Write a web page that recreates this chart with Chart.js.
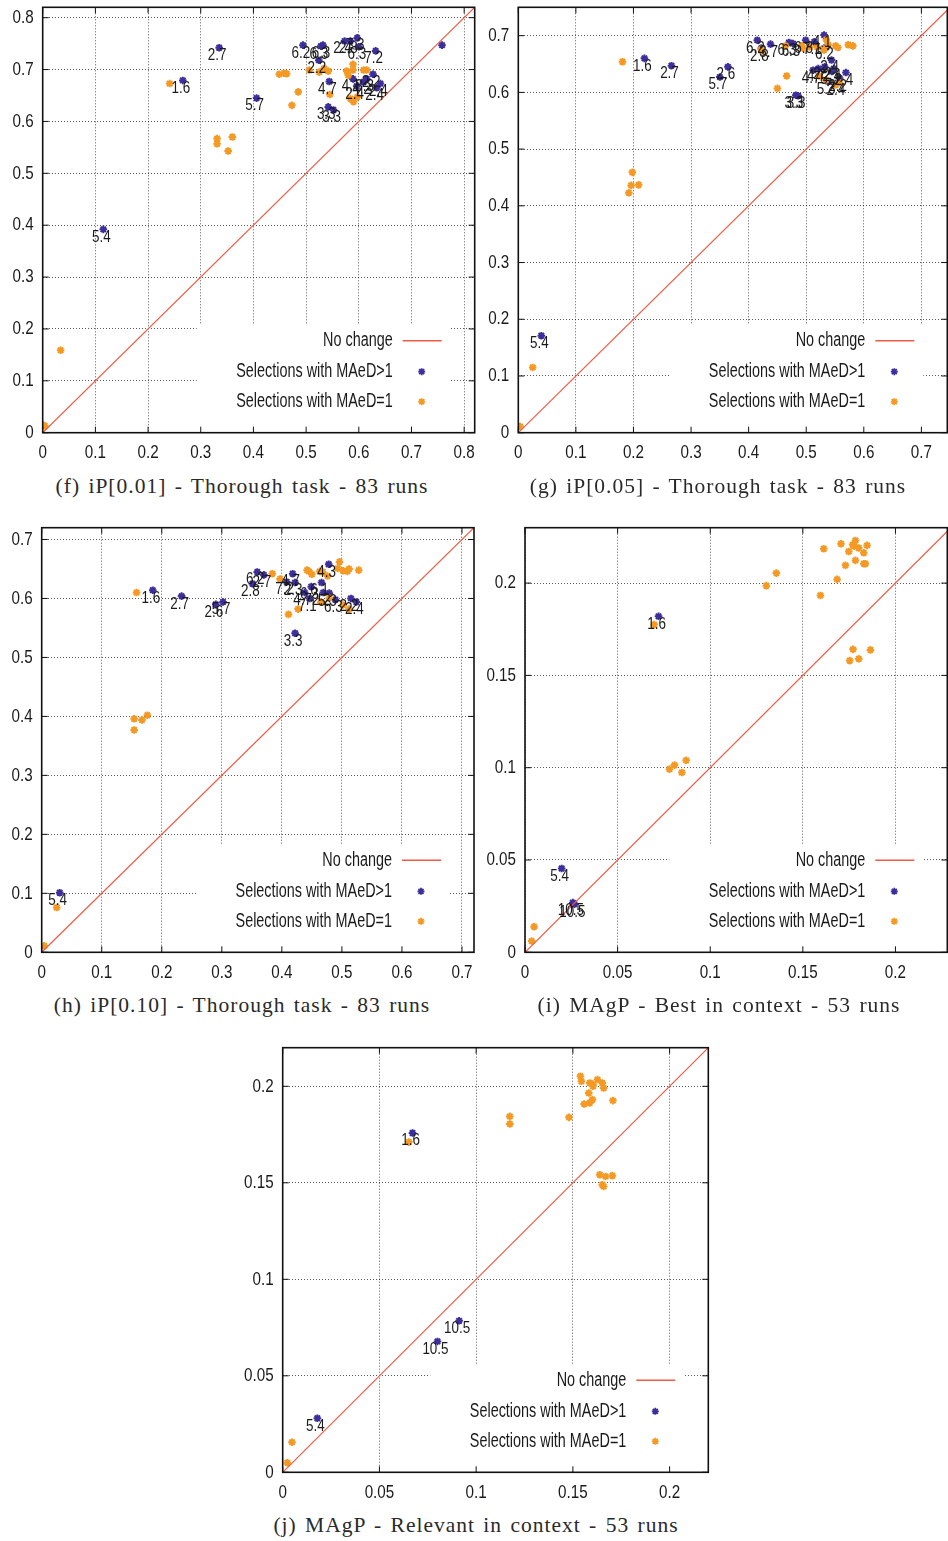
<!DOCTYPE html>
<html>
<head>
<meta charset="utf-8">
<script src="https://cdn.jsdelivr.net/npm/chart.js@4.4.1/dist/chart.umd.min.js"></script>
<style>
html, body { margin: 0; padding: 0; background: #fff; overflow: hidden; width: 948px; height: 1541px; position: relative; }
canvas { position: absolute; }
.cap { position: absolute; width: 480px; text-align: center; white-space: nowrap;
       font-family: "Liberation Serif", "DejaVu Serif", serif; font-size: 21.5px; line-height: 24px;
       letter-spacing: 1px; word-spacing: 2px; color: #2a2a2a; }
</style>
</head>
<body>
<canvas id="pf"></canvas>
<canvas id="pg"></canvas>
<canvas id="ph"></canvas>
<canvas id="pi"></canvas>
<canvas id="pj"></canvas>
<div class="cap" style="left:2px;top:474px">(f) iP[0.01] - Thorough task - 83 runs</div>
<div class="cap" style="left:478px;top:474px">(g) iP[0.05] - Thorough task - 83 runs</div>
<div class="cap" style="left:2px;top:993px">(h) iP[0.10] - Thorough task - 83 runs</div>
<div class="cap" style="left:479px;top:993px">(i) MAgP - Best in context - 53 runs</div>
<div class="cap" style="left:236px;top:1513px">(j) MAgP - Relevant in context - 53 runs</div>
<script>
// tick labels
var ticks08 = [0, 0.1, 0.2, 0.3, 0.4, 0.5, 0.6, 0.7, 0.8];
var ticks07 = [0, 0.1, 0.2, 0.3, 0.4, 0.5, 0.6, 0.7];
var ticks02 = [0, 0.05, 0.1, 0.15, 0.2];
var noChange = [0, 1];

// (f) iP[0.01]
var fBlue = [[0.115,0.392],[0.266,0.679],[0.335,0.742],[0.406,0.645],[0.494,0.747],[0.528,0.745],
  [0.532,0.747],[0.524,0.718],[0.573,0.755],[0.584,0.755],[0.597,0.761],[0.600,0.744],[0.632,0.736],
  [0.544,0.677],[0.542,0.628],[0.552,0.622],[0.589,0.682],[0.596,0.668],[0.609,0.676],[0.627,0.691],
  [0.634,0.665],[0.641,0.673],[0.615,0.682],[0.758,0.747]];
var fBlueLabels = ['5.4','1.6','2.7','5.7','6.2','6.3','6.3','2.2','2.4','2.8','7.3','6.3','7.2',
  '4.7','3.3','3.3','4.1','2.4','4.2','2.2','2.4','2.4','3.3',''];
var fOrange = [[0.000,0.015],[0.004,0.013],[0.034,0.159],[0.241,0.673],[0.331,0.567],[0.331,0.557],
  [0.360,0.570],[0.352,0.543],[0.449,0.691],[0.458,0.693],[0.463,0.692],[0.485,0.657],[0.473,0.631],
  [0.506,0.699],[0.525,0.695],[0.534,0.702],[0.542,0.697],[0.545,0.652],[0.577,0.697],[0.580,0.689],
  [0.589,0.710],[0.589,0.699],[0.609,0.699],[0.615,0.699],[0.584,0.644],[0.590,0.638],[0.597,0.647]];

// (g) iP[0.05]
var gBlue = [[0.040,0.171],[0.219,0.660],[0.266,0.647],[0.364,0.645],[0.350,0.627],[0.415,0.692],
  [0.422,0.678],[0.438,0.685],[0.470,0.688],[0.477,0.686],[0.499,0.692],[0.514,0.689],[0.531,0.701],
  [0.535,0.680],[0.544,0.657],[0.482,0.595],[0.486,0.594],[0.512,0.639],[0.521,0.642],[0.532,0.645],
  [0.544,0.637],[0.548,0.642],[0.558,0.625],[0.569,0.635],[0.555,0.617],[0.538,0.619]];
var gBlueLabels = ['5.4','1.6','2.7','2.6','5.7','6.2','2.8','3.7','6.3','6.3','6.8','7.1','4.1',
  '6.2','2.4','3.3','3.3','4.7','4.7','2.2','5.3','2.4','2.2','2.4','2.4','5.3'];
var gOrange = [[0.003,0.011],[0.025,0.115],[0.181,0.654],[0.198,0.459],[0.196,0.436],[0.192,0.423],
  [0.209,0.437],[0.422,0.676],[0.423,0.673],[0.464,0.682],[0.466,0.629],[0.450,0.607],[0.492,0.682],
  [0.494,0.678],[0.506,0.680],[0.519,0.680],[0.531,0.675],[0.535,0.693],[0.538,0.684],[0.551,0.682],
  [0.555,0.679],[0.573,0.684],[0.581,0.682],[0.522,0.629],[0.534,0.622],[0.551,0.613],[0.558,0.617]];

// (h) iP[0.10]
var hBlue = [[0.030,0.101],[0.185,0.614],[0.233,0.604],[0.290,0.590],[0.302,0.594],[0.359,0.645],
  [0.351,0.625],[0.370,0.640],[0.418,0.642],[0.408,0.628],[0.422,0.627],[0.422,0.541],[0.478,0.658],
  [0.449,0.620],[0.466,0.627],[0.438,0.610],[0.446,0.600],[0.469,0.610],[0.479,0.609],[0.489,0.598],
  [0.515,0.600],[0.524,0.594]];
var hBlueLabels = ['5.4','1.6','2.7','2.6','5.7','6.2','2.8','2.7','4.7','7.2','2.3','3.3','4.3',
  '6.3','6.1','4.7','7.1','2.2','5.3','6.3','2.2','2.4'];
var hOrange = [[0.004,0.011],[0.025,0.076],[0.158,0.610],[0.154,0.396],[0.154,0.377],[0.167,0.394],
  [0.176,0.402],[0.384,0.642],[0.397,0.633],[0.411,0.573],[0.427,0.582],[0.442,0.648],[0.445,0.646],
  [0.450,0.641],[0.463,0.646],[0.468,0.645],[0.476,0.638],[0.496,0.662],[0.493,0.651],[0.502,0.647],
  [0.509,0.646],[0.512,0.650],[0.528,0.648],[0.465,0.594],[0.479,0.601],[0.502,0.589],[0.512,0.582]];

// (i) MAgP - Best in context
var iBlue = [[0.0721,0.182],[0.0198,0.0454],[0.0258,0.0269],[0.0267,0.0261]];
var iBlueLabels = ['1.6','5.4','10.5','10.5'];
var iOrange = [[0.0036,0.0061],[0.0049,0.0139],[0.0697,0.1775],[0.0780,0.0992],[0.0807,0.1014],
  [0.0847,0.0974],[0.0870,0.1040],[0.1303,0.1986],[0.1357,0.2054],[0.1595,0.1933],[0.1613,0.2186],
  [0.1685,0.2020],[0.1706,0.2213],[0.1730,0.2096],[0.1748,0.2171],[0.1769,0.2207],[0.1784,0.2231],
  [0.1778,0.2200],[0.1802,0.2190],[0.1784,0.2123],[0.1829,0.2164],[0.1829,0.2105],[0.1838,0.2105],
  [0.1847,0.2204],[0.1771,0.1641],[0.1753,0.1580],[0.1802,0.1590],[0.1865,0.1638]];

// (j) MAgP - Relevant in context
var jBlue = [[0.0671,0.1758],[0.0179,0.0280],[0.0800,0.0678],[0.0912,0.0785]];
var jBlueLabels = ['1.6','5.4','10.5','10.5'];
var jOrange = [[0.0024,0.0050],[0.0048,0.0156],[0.0652,0.1711],[0.1174,0.1844],[0.1174,0.1805],
  [0.1480,0.1839],[0.1539,0.2052],[0.1544,0.2026],[0.1558,0.1908],[0.1582,0.1965],[0.1587,0.2017],
  [0.1604,0.2010],[0.1604,0.2000],[0.1587,0.1914],[0.1601,0.1931],[0.1627,0.2035],[0.1652,0.2017],
  [0.1659,0.1991],[0.1707,0.1926],[0.1639,0.1542],[0.1652,0.1490],[0.1659,0.1481],[0.1669,0.1533],
  [0.1704,0.1537]];

var BLUE = '#3d2f9b';
var ORANGE = '#f49a24';
var RED = '#ef5b44';
var SANS = '"Liberation Sans", Arial, sans-serif';

function toPts(arr) {
    return arr.map(function (p) { return {x: p[0], y: p[1]}; });
}

// narrow-looking text: regular sans squeezed sideways
function narrowText(ctx, text, x, y, align, size, sx) {
    ctx.save();
    ctx.translate(x, y);
    ctx.scale(sx, 1);
    ctx.font = size + 'px ' + SANS;
    ctx.fillStyle = '#1a1a1a';
    ctx.textAlign = align;
    ctx.textBaseline = 'middle';
    ctx.fillText(text, 0, 0);
    ctx.restore();
}

function star(ctx, x, y, r, color) {
    var d = r * 0.72;
    ctx.save();
    ctx.strokeStyle = color;
    ctx.lineWidth = 1.8;
    ctx.beginPath();
    ctx.moveTo(x - r, y); ctx.lineTo(x + r, y);
    ctx.moveTo(x, y - r); ctx.lineTo(x, y + r);
    ctx.moveTo(x - d, y - d); ctx.lineTo(x + d, y + d);
    ctx.moveTo(x - d, y + d); ctx.lineTo(x + d, y - d);
    ctx.stroke();
    ctx.restore();
}

var overlay = {
    id: 'overlay',
    beforeDatasetsDraw: function (chart) {
        // white key box hides the grid behind it
        var a = chart.chartArea, ctx = chart.ctx;
        ctx.save();
        ctx.fillStyle = '#fff';
        ctx.fillRect(a.right - 278, a.bottom - 108, 254, 107);
        ctx.restore();
    },
    afterDatasetsDraw: function (chart, args, opts) {
        var ctx = chart.ctx, xs = chart.scales.x, ys = chart.scales.y;
        opts.pts.forEach(function (p, i) {
            var t = opts.labels[i];
            if (!t) return;
            narrowText(ctx, t, xs.getPixelForValue(p[0]) - 2, ys.getPixelForValue(p[1]) + 8, 'center', 16, 0.84);
        });
    },
    afterDraw: function (chart, args, opts) {
        var a = chart.chartArea, ctx = chart.ctx, xs = chart.scales.x, ys = chart.scales.y;
        ctx.save();
        ctx.setLineDash([]);
        ctx.strokeStyle = '#111';
        ctx.lineWidth = 1.6;
        ctx.strokeRect(a.left, a.top, a.right - a.left, a.bottom - a.top);
        ctx.lineWidth = 1;
        ctx.beginPath();
        opts.xt.forEach(function (v) {
            var px = xs.getPixelForValue(v);
            ctx.moveTo(px, a.bottom); ctx.lineTo(px, a.bottom - 6);
            ctx.moveTo(px, a.top); ctx.lineTo(px, a.top + 6);
        });
        opts.yt.forEach(function (v) {
            var py = ys.getPixelForValue(v);
            ctx.moveTo(a.left, py); ctx.lineTo(a.left + 6, py);
            ctx.moveTo(a.right, py); ctx.lineTo(a.right - 6, py);
        });
        ctx.stroke();
        ctx.restore();

        opts.xt.forEach(function (v) {
            narrowText(ctx, String(v), xs.getPixelForValue(v), a.bottom + 20, 'center', 19, 0.8);
        });
        opts.yt.forEach(function (v) {
            narrowText(ctx, String(v), a.left - 9, ys.getPixelForValue(v), 'right', 19, 0.8);
        });

        // key
        var tx = a.right - 82, mx = a.right - 53;
        var r1 = a.bottom - 92, r2 = a.bottom - 61, r3 = a.bottom - 31;
        narrowText(ctx, 'No change', tx, r1, 'right', 20, 0.72);
        narrowText(ctx, 'Selections with MAeD>1', tx, r2, 'right', 20, 0.72);
        narrowText(ctx, 'Selections with MAeD=1', tx, r3, 'right', 20, 0.72);
        ctx.save();
        ctx.strokeStyle = RED;
        ctx.lineWidth = 1.5;
        ctx.beginPath();
        ctx.moveTo(a.right - 72, r1); ctx.lineTo(a.right - 33, r1);
        ctx.stroke();
        ctx.restore();
        star(ctx, mx, r2, 3.5, BLUE);
        star(ctx, mx, r3, 3.5, ORANGE);
    }
};

function axis(ticks, max, fitFn) {
    return {
        type: 'linear', min: 0, max: max,
        afterBuildTicks: function (s) { s.ticks = ticks.map(function (v) { return {value: v}; }); },
        afterFit: fitFn,
        ticks: {display: false},
        grid: {color: 'rgba(0,0,0,0.65)', lineWidth: 1, drawTicks: false},
        border: {display: false, dash: [1, 2]}
    };
}

function panel(id, plotL, plotT, plotR, plotB, xmax, ymax, xt, yt, blue, blueLabels, orange) {
    var cv = document.getElementById(id);
    var cl = Math.floor(plotL) - 45, ct = Math.floor(plotT) - 8;
    var cw = Math.ceil(plotR) + 10 - cl, ch = Math.ceil(plotB) + 40 - ct;
    cv.width = cw; cv.height = ch;
    cv.style.left = cl + 'px'; cv.style.top = ct + 'px';
    var yw = plotL - cl, pt = plotT - ct, pr = cw - (plotR - cl), xh = ch - (plotB - ct);

    new Chart(cv.getContext('2d'), {
        type: 'scatter',
        data: {
            datasets: [
                {label: 'No change', data: noChange.map(function (v) { return {x: v, y: v}; }),
                 showLine: true, borderColor: RED, borderWidth: 1.2, pointRadius: 0, order: 0},
                {label: 'Selections with MAeD=1', data: toPts(orange), pointStyle: 'star',
                 radius: 3.8, borderWidth: 2, borderColor: ORANGE, backgroundColor: ORANGE, order: 1},
                {label: 'Selections with MAeD>1', data: toPts(blue), pointStyle: 'star',
                 radius: 3.8, borderWidth: 2, borderColor: BLUE, backgroundColor: BLUE, order: 2}
            ]
        },
        options: {
            responsive: false,
            animation: false,
            devicePixelRatio: 1,
            layout: {padding: {left: 0, top: pt, right: pr, bottom: 0}},
            plugins: {
                legend: {display: false},
                tooltip: {enabled: false},
                overlay: {pts: blue, labels: blueLabels, xt: xt, yt: yt}
            },
            scales: {
                x: axis(xt, xmax, function (s) { s.height = xh; }),
                y: axis(yt, ymax, function (s) { s.width = yw; })
            }
        },
        plugins: [overlay]
    });
}

panel('pf', 42.7, 7.3, 474.7, 432.7, 0.82, 0.82, ticks08, ticks08, fBlue, fBlueLabels, fOrange);
panel('pg', 518.3, 7.3, 947.3, 432.7, 0.745, 0.75, ticks07, ticks07, gBlue, gBlueLabels, gOrange);
panel('ph', 41.7, 527.7, 474, 952.3, 0.72, 0.72, ticks07, ticks07, hBlue, hBlueLabels, hOrange);
panel('pi', 525, 527.7, 947.3, 952.3, 0.228, 0.23, ticks02, ticks02, iBlue, iBlueLabels, iOrange);
panel('pj', 282.7, 1047.7, 708.3, 1472.3, 0.22, 0.22, ticks02, ticks02, jBlue, jBlueLabels, jOrange);
</script>
</body>
</html>
